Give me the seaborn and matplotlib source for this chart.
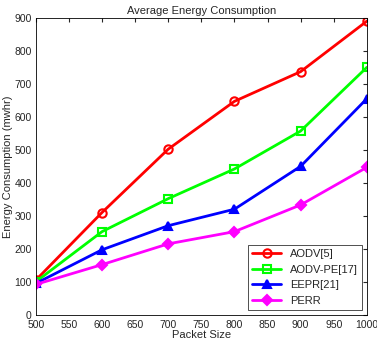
import numpy as np
import matplotlib
matplotlib.use('Agg')
import matplotlib.pyplot as plt
import seaborn as sns
import pandas as pd

packet_size = [500, 600, 700, 800, 900, 1000]
aodv = [105, 310, 502, 647, 737, 890]
aodv_pe = [100, 252, 352, 442, 557, 750]
eepr = [95, 197, 270, 320, 450, 655]
perr = [92, 152, 215, 252, 333, 447]

series = ['AODV[5]', 'AODV-PE[17]', 'EEPR[21]', 'PERR']
colors = ['#ff0000', '#00ff00', '#0000ff', '#ff00ff']
markers = ['o', 's', '^', 'D']

df = pd.DataFrame({'Packet Size': packet_size * 4,
                   'Energy': aodv + aodv_pe + eepr + perr,
                   'Protocol': np.repeat(series, len(packet_size))})

sns.set_style('white')
plt.rcParams['font.family'] = ['Liberation Sans', 'DejaVu Sans']
fig, ax = plt.subplots(figsize=(3.77, 3.44), dpi=100)
fig.subplots_adjust(left=0.095, right=0.973, top=0.948, bottom=0.085)

for name, c, m in zip(series, colors, markers):
    sub = df[df['Protocol'] == name]
    sns.lineplot(data=sub, x='Packet Size', y='Energy', ax=ax, color=c, marker=m,
                 markersize=6 if m != 'D' else 5, markerfacecolor='none' if m in 'os' else c,
                 markeredgecolor=c, markeredgewidth=1.5, linewidth=2, label=name)

ax.set_xlim(500, 1000)
ax.set_ylim(0, 900)
ax.set_xticks(range(500, 1001, 50))
ax.set_yticks(range(0, 901, 100))
ax.tick_params(direction='in', length=3, labelsize=7.5, top=True, right=True, pad=3)
ax.tick_params(axis='x', pad=4)
for s in ax.spines.values():
    s.set_color('black')
    s.set_linewidth(0.6)
ax.set_xlabel('Packet Size', fontsize=8, labelpad=0)
ax.set_ylabel('Energy Consumption (mwhr)', fontsize=8, labelpad=1)
ax.set_title('Average Energy Consumption', fontsize=8, pad=3)
leg = ax.legend(loc='lower right', fontsize=8, frameon=True, fancybox=False,
                edgecolor='black', borderaxespad=0.4, handlelength=2.6, labelspacing=0.5)
leg.get_frame().set_linewidth(0.6)
plt.savefig('out.png', dpi=100)
